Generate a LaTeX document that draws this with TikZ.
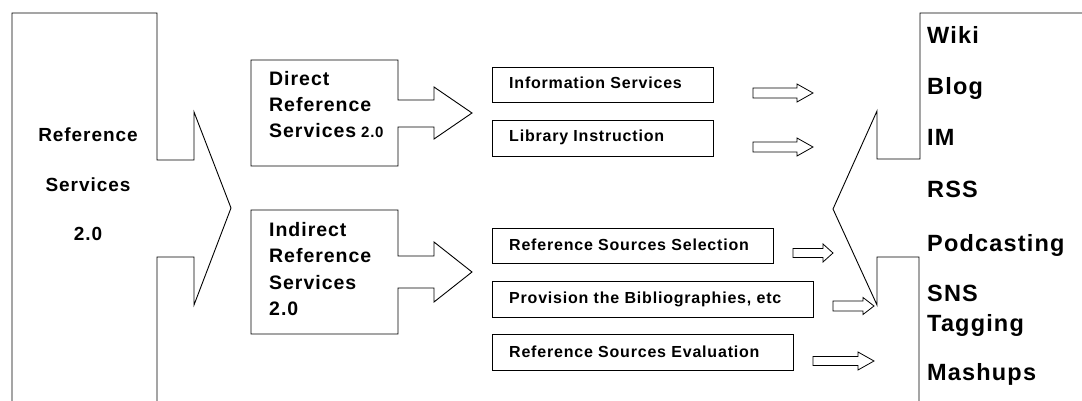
\documentclass[tikz,border=0pt]{standalone}
\usepackage{fontspec}
\setmainfont{Liberation Sans}[LetterSpace=5]
\tikzset{
  outline/.style={draw=black, line width=0.9pt, line join=miter},
  big/.style={font=\bfseries\fontsize{19}{22}\selectfont, inner sep=0pt},
  mid/.style={font=\bfseries\fontsize{19.5}{22}\selectfont, inner sep=0pt, anchor=base west},
  small/.style={font=\bfseries\fontsize{16}{18}\selectfont, inner sep=0pt, anchor=base west},
  tech/.style={font=\bfseries\fontsize{23.5}{26}\selectfont, inner sep=0pt, anchor=base west},
  itembox/.style={outline},
  blockarrow/.style={outline, line width=0.8pt}
}
\newcommand{\blkarrow}[6]{% x0, xhead, xtip, yc, shaft half, head half
  \draw[blockarrow] (#1,#4-#5) -- (#2,#4-#5) -- (#2,#4-#6) -- (#3,#4) -- (#2,#4+#6) -- (#2,#4+#5) -- (#1,#4+#5) -- cycle;}
\begin{document}
\begin{tikzpicture}[x=1pt,y=-1pt]
\useasboundingbox (0,0) rectangle (1082,401);
% left big arrow shape
\draw[outline] (12,401) -- (12,13) -- (157,13) -- (157,160) -- (194,160) -- (194,112) -- (231,208) -- (194,305) -- (194,257) -- (157,257) -- (157,401);
\node[big, anchor=base] (rs1) at (88,142) {Reference};
\node[big, anchor=base] (rs2) at (88,192) {Services};
\node[big, anchor=base] (rs3) at (88,240) {2.0};

% direct box with arrow
\draw[outline] (398,100) -- (398,60) -- (251,60) -- (251,166) -- (398,166) -- (398,127) -- (434,127) -- (434,139) -- (472,113) -- (434,87) -- (434,100) -- cycle;
\node[mid] (d1) at (269,86) {Direct};
\node[mid] (d2) at (269,112) {Reference};
\node[mid] (d3) at (269,138) {Services\fontsize{15}{17}\selectfont\ 2.0};

% indirect box with arrow
\draw[outline] (398,256) -- (398,210) -- (251,210) -- (251,334) -- (398,334) -- (398,288) -- (434,288) -- (434,302) -- (472,272) -- (434,242) -- (434,256) -- cycle;
\node[mid] (i1) at (269,236) {Indirect};
\node[mid] (i2) at (269,262) {Reference};
\node[mid] (i3) at (269,289) {Services};
\node[mid] (i4) at (269,315) {2.0};

% item boxes
\draw[itembox] (492,67) rectangle (713,102);
\node[small] (t1) at (509,89) {Information Services};
\draw[itembox] (492,120) rectangle (713,156);
\node[small] (t2) at (509,142) {Library Instruction};
\draw[itembox] (492,228) rectangle (773,263);
\node[small] (t3) at (509,250) {Reference Sources Selection};
\draw[itembox] (492,281) rectangle (813,317);
\node[small] (t4) at (509,303) {Provision the Bibliographies, etc};
\draw[itembox] (492,334) rectangle (793,370);
\node[small] (t5) at (509,357) {Reference Sources Evaluation};

% small block arrows
\blkarrow{753}{797}{813}{93}{5}{9}
\blkarrow{753}{797}{813}{147}{5}{9}
\blkarrow{793}{823}{833}{253}{4.5}{9}
\blkarrow{833}{863}{874}{306}{5}{8.5}
\blkarrow{813}{858}{874}{361}{4.5}{9}

% right big arrow shape (pointing left)
\draw[outline] (1082,13) -- (920,13) -- (920,159) -- (877,159) -- (877,111) -- (833,209) -- (877,305) -- (877,257) -- (919,257) -- (919,401);
\node[tech] (w1) at (927,44) {Wiki};
\node[tech] (w2) at (927,95) {Blog};
\node[tech] (w3) at (927,146) {IM};
\node[tech] (w4) at (927,197) {RSS};
\node[tech] (w5) at (927,251) {Podcasting};
\node[tech] (w6) at (927,301) {SNS};
\node[tech] (w7) at (927,331) {Tagging};
\node[tech] (w8) at (927,380) {Mashups};
\end{tikzpicture}
\end{document}
